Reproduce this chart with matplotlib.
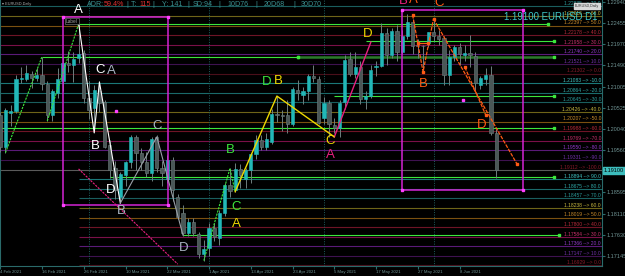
import matplotlib
matplotlib.use("Agg")
import matplotlib.pyplot as plt

plt.rcParams['font.family'] = ['Liberation Sans', 'DejaVu Sans']

# EURUSD D1, one row per trading day, 4 Feb 2021 .. 17 Jun 2021
opens = [1.2036, 1.1962, 1.2040, 1.2045, 1.2118, 1.2118, 1.2130, 1.2120, 1.2127, 1.2106,
         1.2036, 1.2086, 1.2113, 1.2155, 1.2150, 1.2166, 1.2177, 1.2075, 1.2052, 1.2090,
         1.2065, 1.1967, 1.1915, 1.1850, 1.1899, 1.1929, 1.1986, 1.1950, 1.1929, 1.1904,
         1.1986, 1.1915, 1.1890, 1.1933, 1.1849, 1.1812, 1.1767, 1.1792, 1.1764, 1.1719,
         1.1733, 1.1778, 1.1755, 1.1812, 1.1876, 1.1865, 1.1913, 1.1889, 1.1910, 1.1947,
         1.1979, 1.1963, 1.1974, 1.2038, 1.2035, 1.2036, 1.2015, 1.2093, 1.2082, 1.2090,
         1.2125, 1.2118, 1.2030, 1.2063, 1.2013, 1.2006, 1.2065, 1.2163, 1.2129, 1.2145,
         1.2072, 1.2079, 1.2145, 1.2147, 1.2223, 1.2172, 1.2227, 1.2180, 1.2216, 1.2248,
         1.2195, 1.2193, 1.2200, 1.2226, 1.2215, 1.2211, 1.2127, 1.2168, 1.2190, 1.2172,
         1.2177, 1.2170, 1.2104, 1.2118, 1.2127, 1.1995]
highs = [1.2043, 1.2052, 1.2059, 1.2126, 1.2145, 1.2150, 1.2135, 1.2144, 1.2169, 1.2114,
         1.2094, 1.2144, 1.2168, 1.2181, 1.2180, 1.2243, 1.2183, 1.2113, 1.2105, 1.2113,
         1.2070, 1.1978, 1.1930, 1.1905, 1.1930, 1.1990, 1.1990, 1.1960, 1.1952, 1.1985,
         1.1990, 1.1930, 1.1945, 1.1940, 1.1855, 1.1830, 1.1800, 1.1800, 1.1770, 1.1750,
         1.1790, 1.1790, 1.1820, 1.1880, 1.1914, 1.1927, 1.1925, 1.1915, 1.1950, 1.1990,
         1.1990, 1.1995, 1.2049, 1.2080, 1.2048, 1.2070, 1.2100, 1.2115, 1.2100, 1.2130,
         1.2150, 1.2125, 1.2077, 1.2070, 1.2030, 1.2070, 1.2172, 1.2180, 1.2180, 1.2160,
         1.2090, 1.2150, 1.2160, 1.2245, 1.2235, 1.2235, 1.2240, 1.2230, 1.2265, 1.2255,
         1.2210, 1.2195, 1.2225, 1.2255, 1.2230, 1.2216, 1.2185, 1.2195, 1.2200, 1.2195,
         1.2218, 1.2180, 1.2125, 1.2143, 1.2147, 1.2003]
lows = [1.1952, 1.1950, 1.2011, 1.2040, 1.2108, 1.2113, 1.2098, 1.2114, 1.2092, 1.2023,
        1.2022, 1.2075, 1.2090, 1.2133, 1.2110, 1.2155, 1.2063, 1.2026, 1.2000, 1.2043,
        1.1960, 1.1893, 1.1845, 1.1836, 1.1875, 1.1915, 1.1910, 1.1910, 1.1895, 1.1885,
        1.1905, 1.1875, 1.1880, 1.1840, 1.1798, 1.1760, 1.1760, 1.1760, 1.1710, 1.1704,
        1.1715, 1.1748, 1.1740, 1.1805, 1.1850, 1.1860, 1.1870, 1.1870, 1.1880, 1.1935,
        1.1955, 1.1955, 1.1970, 1.2020, 1.2000, 1.1995, 1.2010, 1.2070, 1.2060, 1.2070,
        1.2110, 1.2015, 1.2015, 1.1986, 1.1995, 1.1985, 1.2050, 1.2125, 1.2120, 1.2060,
        1.2050, 1.2075, 1.2125, 1.2145, 1.2150, 1.2165, 1.2160, 1.2175, 1.2210, 1.2175,
        1.2165, 1.2133, 1.2190, 1.2205, 1.2195, 1.2105, 1.2105, 1.2160, 1.2150, 1.2160,
        1.2145, 1.2093, 1.2095, 1.2105, 1.1990, 1.1893]
closes = [1.1962, 1.2047, 1.2045, 1.2118, 1.2120, 1.2132, 1.2120, 1.2127, 1.2106, 1.2036,
          1.2091, 1.2118, 1.2154, 1.2150, 1.2163, 1.2175, 1.2075, 1.2047, 1.2093, 1.2064,
          1.1963, 1.1910, 1.1865, 1.1902, 1.1929, 1.1986, 1.1950, 1.1929, 1.1904, 1.1981,
          1.1915, 1.1904, 1.1933, 1.1865, 1.1803, 1.1767, 1.1792, 1.1767, 1.1719, 1.1730,
          1.1778, 1.1758, 1.1812, 1.1876, 1.1862, 1.1913, 1.1898, 1.1910, 1.1947, 1.1979,
          1.1963, 1.1981, 1.2038, 1.2035, 1.2034, 1.2015, 1.2095, 1.2086, 1.2090, 1.2125,
          1.2120, 1.2018, 1.2063, 1.2015, 1.2006, 1.2063, 1.2161, 1.2129, 1.2145, 1.2072,
          1.2079, 1.2138, 1.2147, 1.2223, 1.2172, 1.2227, 1.2180, 1.2215, 1.2248, 1.2192,
          1.2193, 1.2192, 1.2226, 1.2215, 1.2210, 1.2127, 1.2168, 1.2190, 1.2175, 1.2177,
          1.2172, 1.2109, 1.2120, 1.2127, 1.1995, 1.1910]

tick_idx = [0, 8, 16, 24, 32, 40, 48, 56, 64, 72, 80, 88]
tick_labels = ["4 Feb 2021", "16 Feb 2021", "26 Feb 2021", "10 Mar 2021", "22 Mar 2021",
               "1 Apr 2021", "13 Apr 2021", "23 Apr 2021", "5 May 2021", "17 May 2021",
               "27 May 2021", "8 Jun 2021"]
month_starts = [17, 40, 62, 83]

price_ticks = [1.22940, 1.22455, 1.21970, 1.21490, 1.21005, 1.20525, 1.20040,
               1.19560, 1.18595, 1.18110, 1.17630, 1.17145]
last_price = 1.19100

# two fibo grids drawn on the chart
fib_a_prices = [1.22835, 1.22616, 1.22397, 1.22178, 1.21958, 1.21740, 1.21521, 1.21302,
                1.21083, 1.20864, 1.20645, 1.20426, 1.20207, 1.19988, 1.19769, 1.19550,
                1.19331, 1.19112]
fib_a_levels = [70.0, 60.0, 50.0, 40.0, 30.0, 20.0, 10.0, 0.0, -10.0, -20.0, -30.0,
                -40.0, -50.0, -60.0, -70.0, -80.0, -90.0, -100.0]
fib_b_prices = [1.18894, 1.18675, 1.18457, 1.18238, 1.18019, 1.17800, 1.17584,
                1.17366, 1.17147, 1.16929]
fib_b_levels = [90.0, 80.0, 70.0, 60.0, 50.0, 40.0, 30.0, 20.0, 10.0, 0.0]
fib_b_start = 15

# harmonic pattern legs (bar index, price)
white_x, white_y = [15, 18, 19, 23], [1.2246, 1.1995, 1.2111, 1.1835]
gray_x, gray_y = [23, 30, 35], [1.1835, 1.1986, 1.1762]
chan1_x, chan1_y = [1, 8], [1.1950, 1.2169]
chan2_x, chan2_y = [9, 15], [1.2022, 1.2243]
trend_x, trend_y = [15, 34], [1.1913, 1.1696]
green_x, green_y = [39, 44, 45], [1.1704, 1.1914, 1.1861]
yellow_x, yellow_y = [45, 53, 64], [1.1861, 1.2079, 1.1986]
pink_x, pink_y = [64, 71], [1.1986, 1.2202]
orange_x, orange_y = [79, 81, 83], [1.2264, 1.2134, 1.2255]
orange_long_x, orange_long_y = [83, 99], [1.2255, 1.1924]
orange_short_x, orange_short_y = [89, 93], [1.2145, 1.2036]
orange_flat_x, orange_flat_y = [80, 82], [1.2200, 1.2200]
boxes = [(12, 32.1, 1.1831, 1.2259), (77, 100.1, 1.1865, 1.2274)]
magenta_dots_x, magenta_dots_y = [22.2, 88.6], [1.2045, 1.2070]

# support / resistance lines: start bar, end bar, price
green_levels = [(15, 105, 1.2243), (70, 106, 1.2204), (8, 57, 1.2168), (64, 106, 1.2079),
                (-0.05, 106, 1.2006), (21, 106, 1.1895), (35, 107, 1.1762)]
dark_green_levels = [(57, 106, 1.2168)]

LIME, YEL, PINK, ORG, GRY = '#3ce63c', '#eed800', '#e8207f', '#ff5a14', '#a9b4c2'
pattern_labels = [
    ("A", 'white', 15, 1.2274), ("C", 'white', 19.2, 1.2138), ("A", GRY, 21.2, 1.2136),
    ("B", 'white', 18.2, 1.1965), ("D", 'white', 21.2, 1.1865), ("B", GRY, 23.1, 1.1817),
    ("C", GRY, 30, 1.2011), ("D", GRY, 35.2, 1.1733),
    ("B", LIME, 44.1, 1.1955), ("C", LIME, 45.2, 1.1827), ("A", YEL, 45.2, 1.1788),
    ("D", LIME, 51.1, 1.2110), ("B", YEL, 53.2, 1.2113), ("C", YEL, 63.2, 1.1977),
    ("A", PINK, 63.2, 1.1944), ("D", YEL, 70.3, 1.2220),
    ("B", PINK, 77.2, 1.2296), ("A", ORG, 79.2, 1.2299), ("C", ORG, 84.1, 1.2291),
    ("B", ORG, 81.1, 1.2106), ("D", ORG, 92.2, 1.2012),
]

# colour per fibo level (level mod 100): line colour, text colour
fib_colors = {0: ('#4a0f1a', '#8a1a2a'), 10: ('#3e1250', '#7030a8'),
              20: ('#5a1a78', '#9038c8'), 30: ('#7a1048', '#c8306a'),
              40: ('#6e1426', '#b82a3a'), 50: ('#7a5010', '#c88a2a'),
              60: ('#6e6418', '#c8b840'), 70: ('#1a5e5e', '#2a9a9a'),
              80: ('#1a6a6a', '#30a8a8'), 90: ('#1a7878', '#40c4c4')}

fig = plt.figure(figsize=(6.25, 2.76), dpi=100, facecolor='black')
ax = fig.add_axes([0, 10 / 276, 602 / 625, 266 / 276], facecolor='black')
ax.set_xlim(-0.05, 115.28)
ax.set_ylim(1.16917, 1.22979)

# fibo grids
for prices, levels, x0 in [(fib_a_prices, fib_a_levels, -0.05),
                           (fib_b_prices, fib_b_levels, fib_b_start)]:
    for p, lev in zip(prices, levels):
        lc, tc = fib_colors[int(lev) % 100]
        if lev == -100.0:
            lc = '#5a5a5a'
        ax.hlines(p, x0, 115.3, color=lc, lw=0.8, zorder=1)
        ax.text(0.9985, p + 0.00004, f"{p:.5f} --> {lev:.1f}", transform=ax.get_yaxis_transform(),
                ha='right', va='bottom', fontsize=3.6, color=tc, zorder=2)

for m in month_starts:
    ax.axvline(m, color='#1f5f5f', lw=0.7, ls=(0, (1, 1.5)), zorder=1)

for x0, x1, p in green_levels:
    ax.hlines(p, x0, x1, color=LIME, lw=0.8, zorder=2)
    ax.plot([x1], [p], 's', color=LIME, ms=1.6, zorder=2)
for x0, x1, p in dark_green_levels:
    ax.hlines(p, x0, x1, color='#2a7a2a', lw=1.8, zorder=2)
    ax.plot([x0, x1], [p, p], 's', color=LIME, ms=1.6, zorder=2)

# candles
for i, (o, h, l, c) in enumerate(zip(opens, highs, lows, closes)):
    up = c >= o
    ax.vlines(i, l, h, color='#6e7e7e', lw=0.7, zorder=4)
    ax.bar(i, max(abs(c - o), 0.00005), bottom=min(o, c), width=0.62,
           color='#22b8b8' if up else '#4a5757',
           edgecolor='#22b8b8' if up else '#6f7f7f', lw=0.4, zorder=5)

# boxes
for x0, x1, y0, y1 in boxes:
    ax.plot([x0, x1, x1, x0, x0], [y0, y0, y1, y1, y0], color='#d424d4', lw=1.1, zorder=6)
    ax.plot([x0, x1, x0, x1], [y0, y0, y1, y1], 's', color='#ff40ff', ms=1.5, zorder=6)
ax.plot(magenta_dots_x, magenta_dots_y, 's', color='#ff40ff', ms=1.5, zorder=6)

# pattern legs
ax.plot(chan1_x, chan1_y, color=LIME, lw=0.8, ls=(0, (2, 1)), zorder=6)
ax.plot(chan2_x, chan2_y, color=LIME, lw=0.8, ls=(0, (2, 1)), zorder=6)
ax.plot(white_x, white_y, color='white', lw=0.8, zorder=6)
ax.plot(gray_x, gray_y, color='#9aa0a8', lw=0.8, zorder=6)
ax.plot(trend_x, trend_y, color=PINK, lw=0.8, ls=(0, (2, 1)), zorder=6)
ax.plot(green_x, green_y, color=LIME, lw=0.8, ls=(0, (2, 1)), zorder=6)
ax.plot(yellow_x, yellow_y, color=YEL, lw=1.0, zorder=6)
ax.plot(pink_x, pink_y, color=PINK, lw=1.0, zorder=6)
ax.plot(orange_x, orange_y, color=ORG, lw=0.9, ls=(0, (3, 1)), marker='s', ms=1.5, zorder=6)
ax.plot(orange_long_x, orange_long_y, color=ORG, lw=0.9, ls=(0, (3, 1)), zorder=6)
ax.plot(orange_long_x[-1:], orange_long_y[-1:], 's', color=ORG, ms=1.8, zorder=6)
ax.plot(orange_short_x, orange_short_y, color=ORG, lw=0.9, ls=(0, (3, 1)), marker='s', ms=1.5, zorder=6)
ax.plot(orange_flat_x, orange_flat_y, color=ORG, lw=0.9, marker='s', ms=1.5, zorder=6)

for txt, col, x, p in pattern_labels:
    ax.text(x, p, txt, color=col, fontsize=9.5, ha='center', va='center', zorder=7)

ax.text(12.6, 1.2250, "Label", color='#a0a0a0', fontsize=3.4, ha='left', va='center', zorder=7,
        bbox=dict(boxstyle='square,pad=0.2', fc='black', ec='#707070', lw=0.5))

# axes styling
for side in ['left', 'bottom', 'right']:
    ax.spines[side].set_color('#2a6a6a')
    ax.spines[side].set_linewidth(0.8)
ax.spines['top'].set_visible(False)
ax.yaxis.tick_right()
ax.set_yticks(price_ticks)
ax.set_yticklabels([f"{p:.5f}" for p in price_ticks])
ax.set_xticks(tick_idx)
ax.set_xticklabels(tick_labels, ha='left')
ax.tick_params(axis='y', colors='#2a6a6a', labelcolor='#6f9393', labelsize=4, length=2, pad=1.5)
ax.tick_params(axis='x', colors='#2a6a6a', labelcolor='#6f9393', labelsize=3.1, length=2, pad=1)

ax.text(1.003, last_price, "1.19100", transform=ax.get_yaxis_transform(), ha='left', va='center',
        fontsize=4, color='black', zorder=8, clip_on=False,
        bbox=dict(boxstyle='square,pad=0.15', fc='#3dbdbd', ec='#3dbdbd'))

ax.text(597 / 602, 1 - 17 / 266, "1.19100 EURUSD D1", transform=ax.transAxes,
        ha='right', va='center', fontsize=6.9, color='#3ec8c8', zorder=8)
ax.text(599 / 602, 1 - 6 / 266, "EURUSD,Daily", transform=ax.transAxes, ha='right', va='center',
        fontsize=2.6, color='#303030', zorder=8,
        bbox=dict(boxstyle='square,pad=0.2', fc='#d8d8d8', ec='#d8d8d8'))

# header
TEAL, RED = '#3a9090', '#e03030'
header_parts = [("ADR:", 87, TEAL), ("59.4%", 104, RED), ("|", 126, TEAL), ("T: ", 131, TEAL),
                ("115", 140, RED), ("|", 152, TEAL), ("Y: 141", 162, TEAL), ("|", 187, TEAL),
                ("SD:94", 193, TEAL), ("|", 218, TEAL), ("10D76", 228, TEAL), ("|", 255, TEAL),
                ("20D68", 264, TEAL), ("|", 293, TEAL), ("30D70", 301, TEAL)]
for txt, px, col in header_parts:
    fig.text(px / 625, 1 - 5 / 276, txt, color=col, fontsize=5.1, ha='left', va='center')
fig.text(2 / 625, 1 - 4 / 276, "\u25be EURUSD,Daily", color='#b0b0b0', fontsize=2.8,
         ha='left', va='center', family=['Liberation Sans', 'DejaVu Sans'])

fig.savefig("out.png", dpi=100, facecolor='black')
